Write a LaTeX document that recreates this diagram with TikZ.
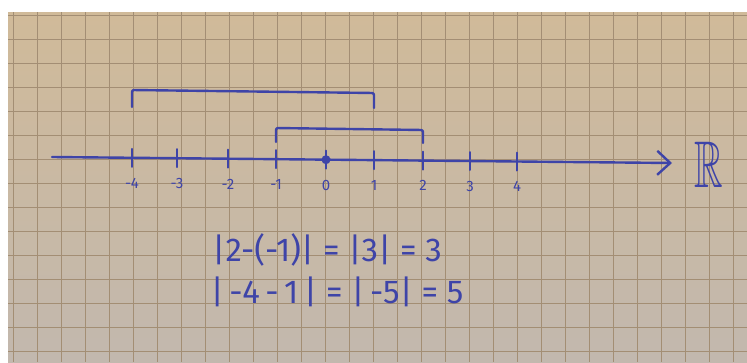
\documentclass[tikz,border=0pt]{standalone}
\usepackage{amssymb}
\usepackage{fontspec}
\setmainfont{Fira Sans}
\usetikzlibrary{arrows.meta, positioning}
\definecolor{inkblue}{RGB}{62, 68, 168}
\definecolor{papertop}{RGB}{208, 186, 153}
\definecolor{paperbottom}{RGB}{194, 184, 174}
\definecolor{gridbrown}{RGB}{163, 142, 116}

\begin{document}
\begin{tikzpicture}[
  x=1pt, y=-1pt,
  ink/.style={draw=inkblue, line width=2.4pt, line cap=round, line join=round},
  tickmark/.style={ink, line width=2pt},
  ticklabel/.style={text=inkblue, font=\fontsize{15}{15}\selectfont, inner sep=0pt},
  formula/.style={text=inkblue, font=\fontsize{33}{35}\selectfont, inner sep=0pt},
  gridline/.style={draw=gridbrown, line width=0.9pt},
]
  % page and squared paper
  \fill[white] (0,0) rectangle (747,362);
  \shade[top color=papertop, bottom color=paperbottom] (8,12) rectangle (747,362);
  \begin{scope}
    \clip (8,12) rectangle (747,362);
    \foreach \gx in {13,37,...,757} \draw[gridline] (\gx,12) -- (\gx,362);
    \foreach \gy in {15,39,...,375} \draw[gridline] (8,\gy) -- (747,\gy);
  \end{scope}
  \useasboundingbox (0,0) rectangle (747,362);

  % real line
  \coordinate (axstart) at (52,157);
  \coordinate (axend) at (672,163);
  \draw[ink, -{Straight Barb[length=13pt, width=24pt]}] (axstart) -- (axend);
  \node[text=inkblue, font=\fontsize{66}{66}\selectfont, xscale=0.6] (reals) at (709,165) {$\mathbb{R}$};

  \foreach \tx/\ty/\tn/\tl in {132/157.8/tm4/-4, 177/158.2/tm3/-3, 228/158.7/tm2/-2,
      276/159.2/tm1/-1, 326/159.7/t0/0, 374/160.1/t1/1, 423/160.6/t2/2,
      470/161.0/t3/3, 517/161.5/t4/4} {
    \coordinate (\tn) at (\tx,\ty);
    \draw[tickmark] ([yshift=9pt]\tn) -- ([yshift=-9pt]\tn);
    \node[ticklabel, below=20pt of \tn] (lab\tn) {\tl};
  }
  \fill[inkblue] (t0) circle (4.5pt);

  % the two intervals
  \coordinate (bigleft) at (132,107);
  \coordinate (bigright) at (374,108);
  \draw[ink, rounded corners=2pt] (bigleft) -- (132,90) -- (374,93) -- (bigright);
  \coordinate (smallleft) at (276,142);
  \coordinate (smallright) at (423,143);
  \draw[ink, rounded corners=2pt] (smallleft) -- (276,128) -- (423,130) -- (smallright);

  \node[formula] (eqone) at (327,250) {|2-(-1)| = |3| = 3};
  \node[formula, below=10pt of eqone, xshift=10pt] (eqtwo) {|\,-4\,-\,1\,| = |\,-5| = 5};
\end{tikzpicture}
\end{document}
